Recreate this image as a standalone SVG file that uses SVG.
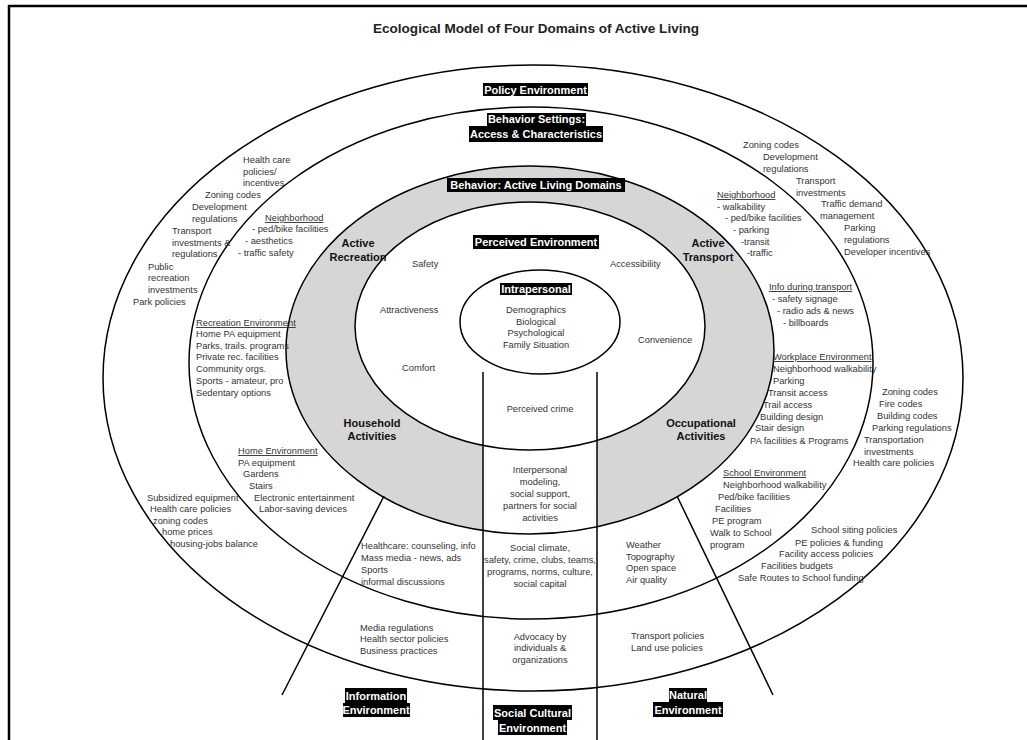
<svg xmlns="http://www.w3.org/2000/svg" width="1027" height="740" viewBox="0 0 1027 740">
<style>
.t{font-family:"Liberation Sans",Arial,sans-serif;font-size:9.3px;fill:#333}
.m{text-anchor:middle}
.u{text-decoration:underline}
.b{font-family:"Liberation Sans",Arial,sans-serif;font-size:11px;font-weight:bold;fill:#111;text-anchor:middle}
.w{font-family:"Liberation Sans",Arial,sans-serif;font-size:11px;font-weight:bold;fill:#fff;text-anchor:middle}
.box{fill:#000}
.ln{fill:none;stroke:#000;stroke-width:1.5}
</style>
<rect x="0" y="0" width="1027" height="740" fill="#fff"/>
<path d="M9,740 V6 H1027" fill="none" stroke="#000" stroke-width="2.5"/>
<text x="536" y="33" font-family="Liberation Sans,Arial,sans-serif" font-size="13" font-weight="bold" fill="#222" text-anchor="middle" textLength="326" lengthAdjust="spacingAndGlyphs">Ecological Model of Four Domains of Active Living</text>

<g id="fills">
<ellipse cx="530" cy="350" rx="244" ry="184" fill="#d6d6d6"/>
<ellipse cx="530" cy="326" rx="175" ry="124" fill="#fff"/>
<rect x="483" y="372" width="114" height="368" fill="#fff"/>
<ellipse cx="540" cy="322" rx="80" ry="52" fill="#fff"/>
</g>

<g id="connectors">
<ellipse class="ln" cx="533" cy="378" rx="430" ry="313"/>
<ellipse class="ln" cx="531" cy="363" rx="342" ry="256"/>
<ellipse class="ln" cx="530" cy="350" rx="244" ry="184"/>
<ellipse class="ln" cx="530" cy="326" rx="175" ry="124"/>
<ellipse class="ln" cx="540" cy="322" rx="80" ry="52"/>
<line class="ln" x1="483" y1="372" x2="483" y2="740"/>
<line class="ln" x1="597" y1="372" x2="597" y2="740"/>
<line class="ln" x1="384" y1="496" x2="282" y2="695"/>
<line class="ln" x1="677" y1="496" x2="773" y2="695"/>
</g>

<g id="policy-environment">
<rect class="box" x="483" y="83" width="105" height="13"/>
<text class="w" x="535.5" y="93.5">Policy Environment</text>
<text class="t" x="243" y="163">Health care</text>
<text class="t" x="243" y="175">policies/</text>
<text class="t" x="243" y="186">incentives</text>
<text class="t" x="205" y="198">Zoning codes</text>
<text class="t" x="192" y="210">Development</text>
<text class="t" x="192" y="222">regulations</text>
<text class="t" x="172" y="234">Transport</text>
<text class="t" x="172" y="246">investments &amp;</text>
<text class="t" x="172" y="257">regulations</text>
<text class="t" x="148" y="270">Public</text>
<text class="t" x="148" y="281">recreation</text>
<text class="t" x="148" y="293">investments</text>
<text class="t" x="133" y="305">Park policies</text>
<text class="t" x="743" y="148">Zoning codes</text>
<text class="t" x="763" y="160">Development</text>
<text class="t" x="763" y="172">regulations</text>
<text class="t" x="796" y="184">Transport</text>
<text class="t" x="796" y="196">investments</text>
<text class="t" x="821" y="207">Traffic demand</text>
<text class="t" x="820" y="219">management</text>
<text class="t" x="844" y="231">Parking</text>
<text class="t" x="844" y="243">regulations</text>
<text class="t" x="844" y="255">Developer incentives</text>
<text class="t" x="882" y="395">Zoning codes</text>
<text class="t" x="879" y="407">Fire codes</text>
<text class="t" x="877" y="419">Building codes</text>
<text class="t" x="872" y="431">Parking regulations</text>
<text class="t" x="864" y="443">Transportation</text>
<text class="t" x="864" y="455">investments</text>
<text class="t" x="853" y="466">Health care policies</text>
<text class="t" x="811" y="533">School siting policies</text>
<text class="t" x="795" y="546">PE policies &amp; funding</text>
<text class="t" x="779" y="557">Facility access policies</text>
<text class="t" x="761" y="569">Facilities budgets</text>
<text class="t" x="738" y="581">Safe Routes to School funding</text>
<text class="t" x="147" y="501">Subsidized equipment</text>
<text class="t" x="150" y="512">Health care policies</text>
<text class="t" x="153" y="524">zoning codes</text>
<text class="t" x="162" y="535">home prices</text>
<text class="t" x="170" y="547">housing-jobs balance</text>
<text class="t" x="360" y="631">Media regulations</text>
<text class="t" x="360" y="642">Health sector policies</text>
<text class="t" x="360" y="654">Business practices</text>
<text class="t m" x="540" y="640">Advocacy by</text>
<text class="t m" x="540" y="651">individuals &amp;</text>
<text class="t m" x="540" y="663">organizations</text>
<text class="t" x="631" y="639">Transport policies</text>
<text class="t" x="631" y="651">Land use policies</text>
</g>

<g id="behavior-settings">
<rect class="box" x="487" y="113" width="99" height="13"/>
<rect class="box" x="469" y="126" width="134" height="16"/>
<text class="w" x="536.5" y="123">Behavior Settings:</text>
<text class="w" x="536" y="138">Access &amp; Characteristics</text>
<text class="t u" x="265" y="221">Neighborhood</text>
<text class="t" x="252" y="232">- ped/bike facilities</text>
<text class="t" x="245" y="244">- aesthetics</text>
<text class="t" x="238" y="256">- traffic safety</text>
<text class="t u" x="196" y="326">Recreation Environment</text>
<text class="t" x="196" y="337">Home PA equipment</text>
<text class="t" x="196" y="349">Parks, trails. programs</text>
<text class="t" x="196" y="360">Private rec. facilities</text>
<text class="t" x="196" y="372">Community orgs.</text>
<text class="t" x="196" y="384">Sports - amateur, pro</text>
<text class="t" x="196" y="396">Sedentary options</text>
<text class="t u" x="238" y="454">Home Environment</text>
<text class="t" x="238" y="466">PA equipment</text>
<text class="t" x="243" y="477">Gardens</text>
<text class="t" x="249" y="489">Stairs</text>
<text class="t" x="254" y="501">Electronic entertainment</text>
<text class="t" x="259" y="512">Labor-saving devices</text>
<text class="t u" x="717" y="198">Neighborhood</text>
<text class="t" x="717" y="210">- walkability</text>
<text class="t" x="725" y="221">- ped/bike facilities</text>
<text class="t" x="733" y="233">- parking</text>
<text class="t" x="741" y="245">-transit</text>
<text class="t" x="747" y="256">-traffic</text>
<text class="t u" x="769" y="290">Info during transport</text>
<text class="t" x="772" y="302">- safety signage</text>
<text class="t" x="777" y="314">- radio ads &amp; news</text>
<text class="t" x="783" y="326">- billboards</text>
<text class="t u" x="773" y="360">Workplace Environment</text>
<text class="t" x="773" y="372">Neighborhood walkability</text>
<text class="t" x="773" y="384">Parking</text>
<text class="t" x="768" y="396">Transit access</text>
<text class="t" x="763" y="408">Trail access</text>
<text class="t" x="760" y="420">Building design</text>
<text class="t" x="755" y="431">Stair design</text>
<text class="t" x="750" y="444">PA facilities &amp; Programs</text>
<text class="t u" x="723" y="476">School Environment</text>
<text class="t" x="723" y="488">Neighborhood walkability</text>
<text class="t" x="718" y="500">Ped/bike facilities</text>
<text class="t" x="715" y="512">Facilities</text>
<text class="t" x="712" y="524">PE program</text>
<text class="t" x="710" y="536">Walk to School</text>
<text class="t" x="710" y="548">program</text>
<text class="t" x="361" y="549">Healthcare: counseling, info</text>
<text class="t" x="361" y="561">Mass media - news, ads</text>
<text class="t" x="361" y="573">Sports</text>
<text class="t" x="361" y="585">informal discussions</text>
<text class="t m" x="540" y="551">Social climate,</text>
<text class="t m" x="540" y="563">safety, crime, clubs, teams,</text>
<text class="t m" x="540" y="575">programs, norms, culture,</text>
<text class="t m" x="540" y="587">social capital</text>
<text class="t" x="626" y="548">Weather</text>
<text class="t" x="626" y="560">Topography</text>
<text class="t" x="626" y="571">Open space</text>
<text class="t" x="626" y="583">Air quality</text>
</g>

<g id="behavior-domains">
<rect class="box" x="447" y="178" width="178" height="14"/>
<text class="w" x="536" y="189">Behavior: Active Living Domains</text>
<text class="b" x="358" y="247">Active</text>
<text class="b" x="358" y="261">Recreation</text>
<text class="b" x="708" y="247">Active</text>
<text class="b" x="708" y="261">Transport</text>
<text class="b" x="372" y="427">Household</text>
<text class="b" x="372" y="440">Activities</text>
<text class="b" x="701" y="427">Occupational</text>
<text class="b" x="701" y="440">Activities</text>
<text class="t m" x="540" y="473">Interpersonal</text>
<text class="t m" x="540" y="485">modeling,</text>
<text class="t m" x="540" y="497">social support,</text>
<text class="t m" x="540" y="509">partners for social</text>
<text class="t m" x="540" y="521">activities</text>
</g>

<g id="perceived-environment">
<rect class="box" x="473" y="235" width="126" height="14"/>
<text class="w" x="536" y="246">Perceived Environment</text>
<text class="t" x="412" y="267">Safety</text>
<text class="t" x="380" y="313">Attractiveness</text>
<text class="t" x="402" y="371">Comfort</text>
<text class="t" x="610" y="267">Accessibility</text>
<text class="t" x="638" y="343">Convenience</text>
<text class="t m" x="540" y="412">Perceived crime</text>
</g>

<g id="intrapersonal">
<rect class="box" x="500" y="283" width="72" height="12"/>
<text class="w" x="536" y="293">Intrapersonal</text>
<text class="t m" x="536" y="313">Demographics</text>
<text class="t m" x="536" y="325">Biological</text>
<text class="t m" x="536" y="336">Psychological</text>
<text class="t m" x="536" y="348">Family Situation</text>
</g>

<g id="information-environment">
<rect class="box" x="345" y="688" width="62" height="15"/>
<rect class="box" x="343" y="703" width="67" height="14"/>
<text class="w" x="376" y="699.5">Information</text>
<text class="w" x="376" y="714">Environment</text>
</g>

<g id="social-cultural-environment">
<rect class="box" x="493" y="705" width="79" height="15"/>
<rect class="box" x="498" y="720" width="69" height="15"/>
<text class="w" x="532.5" y="716.5">Social Cultural</text>
<text class="w" x="532.5" y="731.5">Environment</text>
</g>

<g id="natural-environment">
<rect class="box" x="669" y="688" width="38" height="14"/>
<rect class="box" x="653" y="702" width="70" height="15"/>
<text class="w" x="688" y="699">Natural</text>
<text class="w" x="688" y="713.5">Environment</text>
</g>
</svg>
